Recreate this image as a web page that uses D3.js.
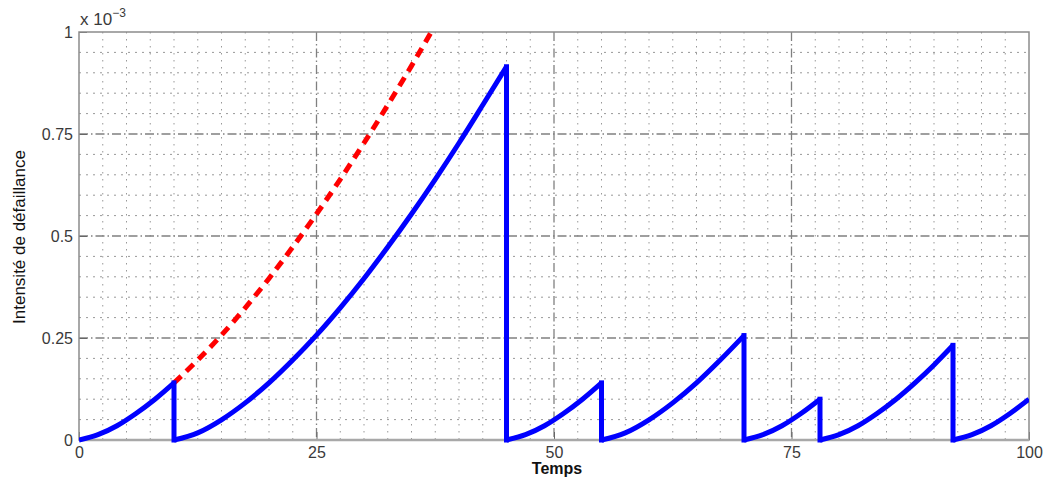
<!DOCTYPE html>
<html>
<head>
<meta charset="utf-8">
<script src="https://cdn.jsdelivr.net/npm/d3@7/dist/d3.min.js"></script>
<style>
  html, body { margin: 0; padding: 0; background: #fff; }
  svg { display: block; }
</style>
</head>
<body>
<svg id="chart" width="1048" height="477"></svg>
<script>
// Failure intensity (×10⁻³) between successive maintenance actions
const xTicks = [0, 25, 50, 75, 100];
const yTicks = [0, 0.25, 0.5, 0.75, 1];
const yTickLabels = ["0", "0.25", "0.5", "0.75", "1"];

// Maintenance instants where the intensity is reset to zero
const resetTimes = [10, 45, 55, 70, 78, 92];

// Intensity of each cycle: time and value
const cycle1T = [0, 2, 4, 6, 8, 10];
const cycle1V = [0, 0.013, 0.035, 0.065, 0.100, 0.140];
const cycle2T = [10, 12.5, 15, 17.5, 20, 22.5, 25, 27.5, 30, 32.5, 35, 37.5, 40, 42.5, 45];
const cycle2V = [0, 0.0175, 0.0495, 0.091, 0.140, 0.196, 0.257, 0.324, 0.396, 0.473, 0.554, 0.639, 0.728, 0.821, 0.915];
const cycle3T = [45, 47, 49, 51, 53, 55];
const cycle3V = [0, 0.013, 0.035, 0.065, 0.100, 0.140];
const cycle4T = [55, 57.5, 60, 62.5, 65, 67.5, 70];
const cycle4V = [0, 0.0175, 0.0495, 0.091, 0.140, 0.196, 0.256];
const cycle5T = [70, 72, 74, 76, 78];
const cycle5V = [0, 0.013, 0.035, 0.065, 0.100];
const cycle6T = [78, 80, 82, 84, 86, 88, 90, 92];
const cycle6V = [0, 0.013, 0.035, 0.065, 0.100, 0.140, 0.184, 0.232];
const cycle7T = [92, 94, 96, 98, 100];
const cycle7V = [0, 0.013, 0.035, 0.065, 0.100];

// Intensity without maintenance after t = 10
const noMaintT = [10, 12.5, 15, 17.5, 20, 22.5, 25, 27.5, 30, 32.5, 35, 37.5];
const noMaintV = [0.140, 0.196, 0.257, 0.324, 0.396, 0.473, 0.554, 0.639, 0.728, 0.821, 0.917, 1.017];

const cycles = [
  [cycle1T, cycle1V], [cycle2T, cycle2V], [cycle3T, cycle3V], [cycle4T, cycle4V],
  [cycle5T, cycle5V], [cycle6T, cycle6V], [cycle7T, cycle7V]
];

const svg = d3.select("#chart");
const plotLeft = 79, plotRight = 1029, plotTop = 32, plotBottom = 440;

const x = d3.scaleLinear().domain([0, 100]).range([plotLeft, plotRight]);
const y = d3.scaleLinear().domain([0, 1]).range([plotBottom, plotTop]);

const gridColor = "#808080";
const axisColor = "#8c8c8c";
const textColor = "#3a3a3a";

// Minor dotted grid
const minorX = d3.range(0, 100.001, 2.5).filter(v => v % 25 !== 0);
const minorY = d3.range(0, 1.0001, 0.05).map(v => +v.toFixed(2)).filter(v => Math.abs(v * 4 - Math.round(v * 4)) > 1e-6);
const grid = svg.append("g");
grid.selectAll(".mx").data(minorX).join("line")
  .attr("x1", d => x(d)).attr("x2", d => x(d)).attr("y1", plotTop).attr("y2", plotBottom)
  .attr("stroke", "#999").attr("stroke-width", 1).attr("stroke-dasharray", "1.5,5.5");
grid.selectAll(".my").data(minorY).join("line")
  .attr("x1", plotLeft).attr("x2", plotRight).attr("y1", d => y(d)).attr("y2", d => y(d))
  .attr("stroke", "#999").attr("stroke-width", 1).attr("stroke-dasharray", "2,5");

// Major dash-dot grid
grid.selectAll(".Mx").data(xTicks.slice(1, -1)).join("line")
  .attr("x1", d => x(d)).attr("x2", d => x(d)).attr("y1", plotTop).attr("y2", plotBottom)
  .attr("stroke", gridColor).attr("stroke-width", 1.3).attr("stroke-dasharray", "9,3,1.5,3");
grid.selectAll(".My").data(yTicks.slice(1, -1)).join("line")
  .attr("x1", plotLeft).attr("x2", plotRight).attr("y1", d => y(d)).attr("y2", d => y(d))
  .attr("stroke", gridColor).attr("stroke-width", 1.3).attr("stroke-dasharray", "9,3,1.5,3");

// Axes with inward ticks
const xAxis = svg.append("g").attr("transform", `translate(0,${plotBottom})`)
  .call(d3.axisBottom(x).tickValues(xTicks).tickSizeInner(-8).tickSizeOuter(0).tickPadding(6));
const yAxis = svg.append("g").attr("transform", `translate(${plotLeft},0)`)
  .call(d3.axisLeft(y).tickValues(yTicks).tickFormat((d, i) => yTickLabels[i]).tickSizeInner(-8).tickSizeOuter(0).tickPadding(6));
[xAxis, yAxis].forEach(g => {
  g.select(".domain").remove();
  g.selectAll(".tick line").attr("stroke", "#666").attr("stroke-width", 1);
  g.selectAll(".tick text").attr("fill", textColor)
    .attr("font-family", "Liberation Sans, Arial, sans-serif").attr("font-size", 16);
});
xAxis.selectAll(".tick text").attr("dy", "0.75em");
yAxis.selectAll(".tick text").attr("dy", "0.36em");

// Plot box
svg.append("rect").attr("x", plotLeft).attr("y", plotTop).attr("width", plotRight - plotLeft).attr("height", plotBottom - plotTop)
  .attr("fill", "none").attr("stroke", axisColor).attr("stroke-width", 1.5);
svg.append("line").attr("x1", plotLeft).attr("x2", plotRight).attr("y1", plotBottom).attr("y2", plotBottom)
  .attr("stroke", "#a8a8a8").attr("stroke-width", 2.5);

// Curves
svg.append("clipPath").attr("id", "plotClip").append("rect")
  .attr("x", plotLeft).attr("y", plotTop).attr("width", plotRight - plotLeft).attr("height", plotBottom - plotTop + 3);
const plot = svg.append("g").attr("clip-path", "url(#plotClip)");

const line = d3.line().x(d => x(d[0])).y(d => y(d[1])).curve(d3.curveMonotoneX);

plot.append("path")
  .datum(noMaintT.map((t, i) => [t, noMaintV[i]]))
  .attr("d", line).attr("fill", "none").attr("stroke", "#ff0000")
  .attr("stroke-width", 5).attr("stroke-dasharray", "10,7");

const blue = plot.append("g");
cycles.forEach(([ts, vs]) => {
  blue.append("path").datum(ts.map((t, i) => [t, vs[i]]))
    .attr("d", line).attr("fill", "none").attr("stroke", "#0000ff")
    .attr("stroke-width", 5).attr("stroke-linejoin", "round");
});
// Vertical drops at each maintenance instant
const peaks = resetTimes.map(t => {
  const c = cycles.find(([ts]) => ts[ts.length - 1] === t);
  return [t, c[1][c[1].length - 1]];
});
blue.selectAll(".drop").data(peaks).join("line")
  .attr("x1", d => x(d[0])).attr("x2", d => x(d[0]))
  .attr("y1", d => y(d[1])).attr("y2", y(0))
  .attr("stroke", "#0000ff").attr("stroke-width", 5).attr("stroke-linecap", "square");

// Exponent label
const expo = svg.append("text").attr("x", 80).attr("y", 25).attr("fill", textColor)
  .attr("font-family", "Liberation Sans, Arial, sans-serif").attr("font-size", 17);
expo.append("tspan").text("x 10");
expo.append("tspan").attr("dy", -8).attr("font-size", 12).text("\u22123");

// Axis titles
svg.append("text").attr("x", 557).attr("y", 474).attr("text-anchor", "middle")
  .attr("font-family", "Liberation Sans, Arial, sans-serif").attr("font-size", 16).attr("font-weight", "bold")
  .attr("fill", "#111").text("Temps");
svg.append("text").attr("transform", "translate(25,237) rotate(-90)").attr("text-anchor", "middle")
  .attr("font-family", "Liberation Sans Narrow, Arial Narrow, Liberation Sans, sans-serif").attr("font-size", 17)
  .attr("fill", "#111").text("Intensité de défaillance");
</script>
</body>
</html>
